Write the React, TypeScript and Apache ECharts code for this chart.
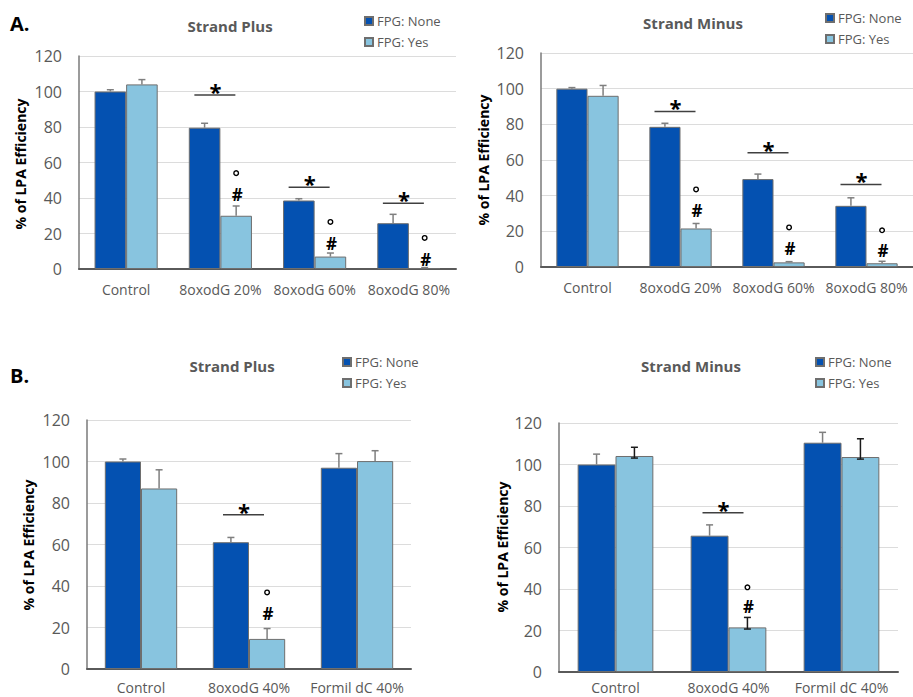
import React, { useEffect, useRef } from "react";
import * as echarts from "echarts";

// ---------- data ----------
const catsA = ["Control", "8oxodG 20%", "8oxodG 60%", "8oxodG 80%"];
const catsB = ["Control", "8oxodG 40%", "Formil dC 40%"];
const yTicks = { min: 0, max: 120, interval: 20 };

// Panel A – Strand Plus
const a1None = [100, 79.6, 38.6, 25.8];
const a1NoneErr = [1, 2.5, 1, 5];
const a1Yes = [104, 30, 7, 0.5];
const a1YesErr = [2.7, 5.5, 2, 0.3];
const a1Star = [null, 98, 46, 37];
const a1Hash = [null, 42, 14.6, 5.6];
const a1Deg = [null, 54, 26.5, 17.5];

// Panel A – Strand Minus
const a2None = [100, 78.6, 49.3, 34.3];
const a2NoneErr = [0.6, 2, 2.8, 4.5];
const a2Yes = [96, 21.6, 2.6, 2.1];
const a2YesErr = [5.8, 2.8, 0.4, 1.1];
const a2Star = [null, 87.2, 64.1, 46.3];
const a2Hash = [null, 31.5, 10.3, 9];
const a2Deg = [null, 43.5, 22.2, 20.6];

// Panel B – Strand Plus
const b1None = [100, 61.1, 97];
const b1NoneErr = [1.2, 2.3, 6.8];
const b1Yes = [87, 14.5, 100.2];
const b1YesErr = [9, 5, 5];
const b1Star = [null, 74.3, null];
const b1Hash = [null, 26.7, null];
const b1Deg = [null, 36.9, null];

// Panel B – Strand Minus
const b2None = [100, 65.7, 110.5];
const b2NoneErr = [5, 5.2, 5];
const b2Yes = [104.1, 21.5, 103.6];
const b2YesErr = [4.2, 4.8, 8.8];
const b2YesErrDown = [1, 0.8, 1];
const b2Star = [null, 76.8, null];
const b2Hash = [null, 31.4, null];
const b2Deg = [null, 40.8, null];

const seriesNames = ["FPG: None", "FPG: Yes"];
const yAxisTitle = "% of LPA Efficiency";

// ---------- styles ----------
const FONT = '"Open Sans", "Noto Sans", sans-serif';
const DARK = "#0451B1";
const LIGHT = "#88C4DF";
const BORDER = "#6e6e6e";
const GRAY_TXT = "#595959";

type Panel = {
  cats: string[];
  none: number[];
  noneErr: number[];
  yes: number[];
  yesErr: number[];
  yesErrDown?: number[];
  star: (number | null)[];
  hash: (number | null)[];
  deg: (number | null)[];
  grid: { left: number; top: number; width: number; height: number };
  yesErrColor: string;
  title: string;
  titlePos: [number, number];
  legendPos: [number, number];
  yTitlePos: [number, number];
  labelMargin: number;
};

const panels: Panel[] = [
  {
    cats: catsA, none: a1None, noneErr: a1NoneErr, yes: a1Yes, yesErr: a1YesErr,
    star: a1Star, hash: a1Hash, deg: a1Deg,
    grid: { left: 79, top: 56, width: 377, height: 213 },
    yesErrColor: "#7f7f7f", title: "Strand Plus", titlePos: [230, 26],
    legendPos: [364, 14], yTitlePos: [20, 164], labelMargin: 13,
  },
  {
    cats: catsA, none: a2None, noneErr: a2NoneErr, yes: a2Yes, yesErr: a2YesErr,
    star: a2Star, hash: a2Hash, deg: a2Deg,
    grid: { left: 541, top: 53, width: 377, height: 214 },
    yesErrColor: "#7f7f7f", title: "Strand Minus", titlePos: [693, 23],
    legendPos: [825, 11], yTitlePos: [483, 160], labelMargin: 13,
  },
  {
    cats: catsB, none: b1None, noneErr: b1NoneErr, yes: b1Yes, yesErr: b1YesErr,
    star: b1Star, hash: b1Hash, deg: b1Deg,
    grid: { left: 87, top: 420, width: 324, height: 249 },
    yesErrColor: "#7f7f7f", title: "Strand Plus", titlePos: [232, 366],
    legendPos: [342, 355], yTitlePos: [28, 545], labelMargin: 11,
  },
  {
    cats: catsB, none: b2None, noneErr: b2NoneErr, yes: b2Yes, yesErr: b2YesErr,
    yesErrDown: b2YesErrDown,
    star: b2Star, hash: b2Hash, deg: b2Deg,
    grid: { left: 559, top: 423, width: 339, height: 249 },
    yesErrColor: "#1a1a1a", title: "Strand Minus", titlePos: [691, 366],
    legendPos: [815, 355], yTitlePos: [502, 547], labelMargin: 8,
  },
];

const GAP = 0.33;

function buildOption() {
  const grid: any[] = [];
  const xAxis: any[] = [];
  const yAxis: any[] = [];
  const series: any[] = [];
  const legend: any[] = [];
  const graphic: any[] = [];

  panels.forEach((p, i) => {
    grid.push({ ...p.grid });
    xAxis.push({
      type: "category",
      gridIndex: i,
      data: p.cats,
      axisLine: { lineStyle: { color: "#5a5a5a", width: 2 } },
      axisTick: { show: false },
      axisLabel: { color: GRAY_TXT, fontSize: 14, margin: p.labelMargin, fontFamily: FONT, interval: 0 },
    });
    yAxis.push({
      type: "value",
      gridIndex: i,
      min: yTicks.min,
      max: yTicks.max,
      interval: yTicks.interval,
      axisLine: { show: true, lineStyle: { color: "#7a7a7a", width: 1.5 } },
      axisTick: { show: false },
      axisLabel: { color: GRAY_TXT, fontSize: 16, margin: 17, fontFamily: FONT },
      splitLine: { lineStyle: { color: "#dcdcdc", width: 1 } },
    });

    series.push({
      type: "bar",
      name: seriesNames[0],
      xAxisIndex: i,
      yAxisIndex: i,
      data: p.none,
      barGap: "0%",
      barCategoryGap: "33%",
      itemStyle: { color: DARK, borderColor: BORDER, borderWidth: 1 },
    });
    series.push({
      type: "bar",
      name: seriesNames[1],
      xAxisIndex: i,
      yAxisIndex: i,
      data: p.yes,
      barGap: "0%",
      barCategoryGap: "33%",
      itemStyle: { color: LIGHT, borderColor: BORDER, borderWidth: 1 },
    });

    // error bars
    const errData: any[] = [];
    p.cats.forEach((_, c) => {
      errData.push([c, p.none[c], p.noneErr[c], 0, 0]);
      errData.push([c, p.yes[c], p.yesErr[c], p.yesErrDown ? p.yesErrDown[c] : 0, 1]);
    });
    series.push({
      type: "custom",
      xAxisIndex: i,
      yAxisIndex: i,
      silent: true,
      z: 5,
      encode: { x: 0, y: 1 },
      data: errData,
      renderItem: (params: any, api: any) => {
        const c = api.value(0);
        const v = api.value(1);
        const up = api.value(2);
        const dn = api.value(3);
        const side = api.value(4);
        const band = api.size([1, 0])[0];
        const bw = (band * (1 - GAP)) / 2;
        const ctr = api.coord([c, v]);
        const x = ctr[0] + (side === 0 ? -bw / 2 : bw / 2);
        const yTop = api.coord([c, v + up])[1];
        const yBot = api.coord([c, v - dn])[1];
        const color = side === 1 ? p.yesErrColor : "#7f7f7f";
        const style = { stroke: color, lineWidth: 1.5 };
        const children: any[] = [
          { type: "line", shape: { x1: x, y1: yBot, x2: x, y2: yTop }, style },
          { type: "line", shape: { x1: x - 3.5, y1: yTop, x2: x + 3.5, y2: yTop }, style },
        ];
        if (dn > 0) {
          children.push({ type: "line", shape: { x1: x - 3.5, y1: yBot, x2: x + 3.5, y2: yBot }, style });
        }
        return { type: "group", children };
      },
    });

    // significance annotations
    const sigData: any[] = [];
    p.cats.forEach((_, c) => {
      if (p.star[c] != null) sigData.push([c, p.star[c], p.hash[c], p.deg[c]]);
    });
    series.push({
      type: "custom",
      xAxisIndex: i,
      yAxisIndex: i,
      silent: true,
      z: 6,
      encode: { x: 0, y: 1 },
      data: sigData,
      renderItem: (params: any, api: any) => {
        const c = api.value(0);
        const band = api.size([1, 0])[0];
        const bw = (band * (1 - GAP)) / 2;
        const lp = api.coord([c, api.value(1)]);
        const hp = api.coord([c, api.value(2)]);
        const dp = api.coord([c, api.value(3)]);
        const yesX = hp[0] + bw / 2;
        return {
          type: "group",
          children: [
            {
              type: "line",
              shape: { x1: lp[0] - 26, y1: lp[1], x2: lp[0] + 15, y2: lp[1] },
              style: { stroke: "#404040", lineWidth: 1.5 },
            },
            {
              type: "text",
              x: lp[0] - 5,
              y: lp[1] + 7,
              style: {
                text: "*",
                fill: "#000",
                font: `bold 22px ${FONT}`,
                align: "center",
                verticalAlign: "bottom",
              },
            },
            {
              type: "text",
              x: yesX + 1,
              y: hp[1],
              style: {
                text: "#",
                fill: "#000",
                font: `bold 17px ${FONT}`,
                align: "center",
                verticalAlign: "middle",
              },
            },
            {
              type: "circle",
              shape: { cx: yesX, cy: dp[1], r: 2.3 },
              style: { fill: "none", stroke: "#000", lineWidth: 1.4 },
            },
          ],
        };
      },
    });

    legend.push({
      data: seriesNames,
      orient: "vertical",
      left: p.legendPos[0],
      top: p.legendPos[1],
      itemWidth: 8,
      itemHeight: 8,
      itemGap: 7,
      icon: "rect",
      padding: 0,
      selectedMode: false,
      textStyle: { color: GRAY_TXT, fontSize: 13, fontFamily: FONT, lineHeight: 14, padding: [0, 0, 0, -1] },
    });

    graphic.push({
      type: "text",
      x: p.titlePos[0],
      y: p.titlePos[1],
      style: {
        text: p.title,
        fill: GRAY_TXT,
        font: `bold 15px ${FONT}`,
        align: "center",
        verticalAlign: "middle",
      },
    });
    graphic.push({
      type: "text",
      x: p.yTitlePos[0],
      y: p.yTitlePos[1],
      rotation: Math.PI / 2,
      style: {
        text: yAxisTitle,
        fill: "#000",
        font: `bold 14px ${FONT}`,
        align: "center",
        verticalAlign: "middle",
      },
    });
  });

  graphic.push({
    type: "text",
    x: 10,
    y: 23,
    style: { text: "A.", fill: "#000", font: `bold 20px ${FONT}`, align: "left", verticalAlign: "middle" },
  });
  graphic.push({
    type: "text",
    x: 10,
    y: 375,
    style: { text: "B.", fill: "#000", font: `bold 20px ${FONT}`, align: "left", verticalAlign: "middle" },
  });

  return {
    animation: false,
    backgroundColor: "#ffffff",
    textStyle: { fontFamily: FONT },
    grid,
    xAxis,
    yAxis,
    legend,
    series,
    graphic,
  };
}

export default function App() {
  const ref = useRef<HTMLDivElement>(null);
  useEffect(() => {
    if (!ref.current) return;
    const chart = echarts.init(ref.current, undefined, { renderer: "svg" });
    chart.setOption(buildOption() as any);
    return () => chart.dispose();
  }, []);
  return (
    <div
      ref={ref}
      style={{ position: "fixed", left: 0, top: 0, width: 913, height: 697, background: "#fff" }}
    />
  );
}
